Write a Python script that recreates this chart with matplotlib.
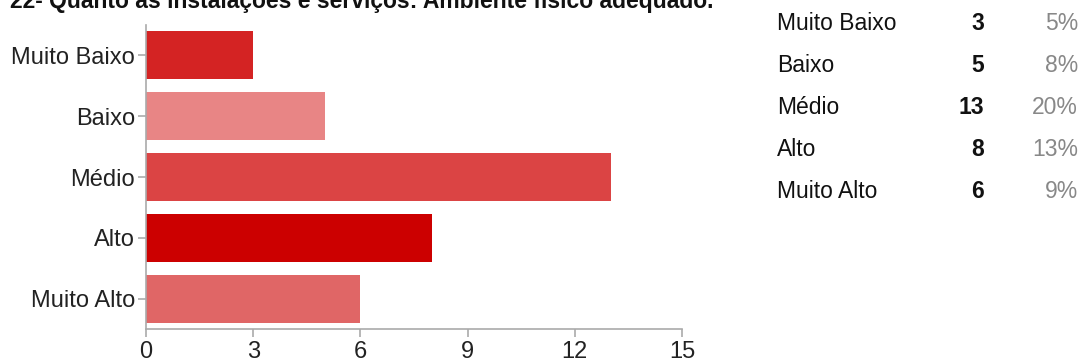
import matplotlib.pyplot as plt

plt.rcParams['font.family'] = ['Liberation Sans', 'DejaVu Sans']

# dados
categorias = ['Muito Baixo', 'Baixo', 'Médio', 'Alto', 'Muito Alto']
valores = [3, 5, 13, 8, 6]
percentuais = ['5%', '8%', '20%', '13%', '9%']
cores = ['#d42323', '#e88585', '#db4444', '#cc0000', '#e06666']
ticks_x = [0, 3, 6, 9, 12, 15]
titulo = '22- Quanto às instalações e serviços: Ambiente físico adequado.'

fig = plt.figure(figsize=(10.82, 3.61), dpi=100)
ax = fig.add_axes([146 / 1082, 1 - 329 / 361, 536 / 1082, 304 / 361])

y = list(range(len(categorias)))
ax.barh(y, valores, height=0.79, color=cores)
ax.set_ylim(len(categorias) - 0.5, -0.5)
ax.set_xlim(0, 15)
ax.set_xticks(ticks_x)
ax.set_yticks(y)
ax.set_yticklabels(categorias)

for s in ['top', 'right']:
    ax.spines[s].set_visible(False)
for s in ['left', 'bottom']:
    ax.spines[s].set_color('#aaaaaa')
    ax.spines[s].set_linewidth(1.2)
ax.tick_params(axis='both', colors='#aaaaaa', length=6, width=1.2,
               labelsize=17, labelcolor='#222222')
ax.tick_params(axis='x', pad=3)
ax.tick_params(axis='y', pad=2)

# titulo (cortado no topo)
fig.text(10 / 1082, 1 - 8 / 361, titulo, fontsize=16.5, fontweight='bold',
         ha='left', va='baseline', color='#111111')

# tabela à direita
for i, (c, v, p) in enumerate(zip(categorias, valores, percentuais)):
    yy = 1 - (24 + i * 42) / 361
    fig.text(777 / 1082, yy, c, fontsize=16.5, ha='left', va='center', color='#111111')
    fig.text(984 / 1082, yy, str(v), fontsize=16.5, fontweight='bold',
             ha='right', va='center', color='#111111')
    fig.text(1078 / 1082, yy, p, fontsize=16.5, ha='right', va='center', color='#888888')

fig.savefig('out.png', dpi=100)
